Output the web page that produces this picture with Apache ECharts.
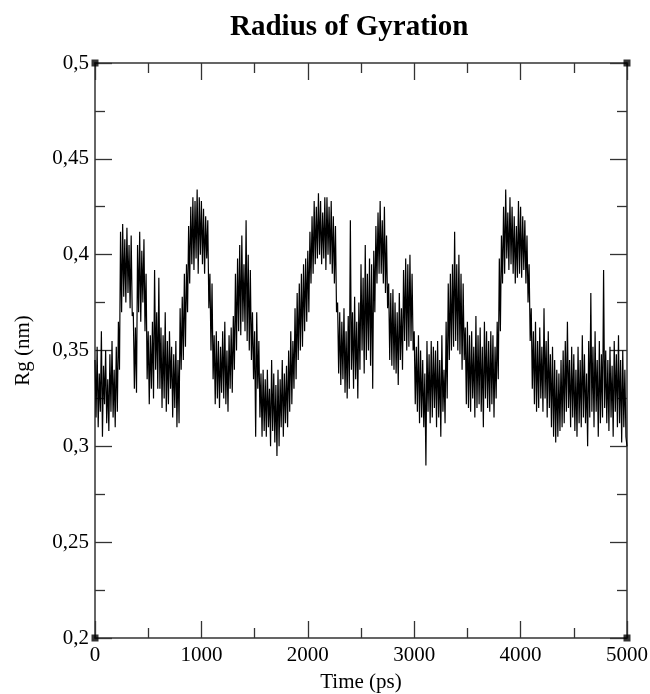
<!DOCTYPE html>
<html>
<head>
<meta charset="utf-8">
<script src="https://cdn.jsdelivr.net/npm/echarts@6/dist/echarts.min.js"></script>
<style>
  html, body { margin: 0; padding: 0; background: #fff; }
  #chart { width: 650px; height: 694px; }
</style>
</head>
<body>
<div id="chart"></div>
<script>
// sampling of the trajectory (ps)
const timeStep = 10
const timeTicks = [0, 1000, 2000, 3000, 4000, 5000]
const rgTicks = [0.2, 0.25, 0.3, 0.35, 0.4, 0.45, 0.5]
// Rg (nm), one row = 200 ps
const rgValues = [
  0.345, 0.315, 0.352, 0.31, 0.338, 0.318, 0.36, 0.305, 0.342, 0.322, 0.35, 0.312, 0.335, 0.308, 0.348, 0.318, 0.355, 0.315, 0.34, 0.31,
  0.352, 0.318, 0.365, 0.34, 0.412, 0.37, 0.416, 0.378, 0.408, 0.375, 0.414, 0.38, 0.405, 0.372, 0.41, 0.368, 0.37, 0.33, 0.362, 0.328,
  0.405, 0.37, 0.412, 0.365, 0.402, 0.375, 0.408, 0.36, 0.39, 0.335, 0.36, 0.322, 0.358, 0.33, 0.365, 0.325, 0.392, 0.34, 0.37, 0.33,
  0.388, 0.33, 0.362, 0.32, 0.358, 0.325, 0.37, 0.318, 0.355, 0.322, 0.36, 0.33, 0.352, 0.315, 0.348, 0.32, 0.355, 0.31, 0.345, 0.312,
  0.372, 0.34, 0.378, 0.345, 0.39, 0.352, 0.395, 0.37, 0.415, 0.385, 0.425, 0.395, 0.43, 0.392, 0.428, 0.398, 0.434, 0.39, 0.43, 0.4,
  0.428, 0.395, 0.424, 0.39, 0.42, 0.398, 0.418, 0.372, 0.39, 0.35, 0.385, 0.335, 0.358, 0.322, 0.36, 0.325, 0.355, 0.32, 0.352, 0.328,
  0.36, 0.325, 0.365, 0.322, 0.35, 0.318, 0.358, 0.33, 0.362, 0.328, 0.368, 0.34, 0.39, 0.35, 0.398, 0.36, 0.405, 0.358, 0.41, 0.365,
  0.395, 0.36, 0.418, 0.355, 0.4, 0.35, 0.392, 0.345, 0.37, 0.335, 0.36, 0.305, 0.37, 0.33, 0.355, 0.315, 0.338, 0.305, 0.34, 0.308,
  0.335, 0.305, 0.34, 0.31, 0.33, 0.3, 0.345, 0.308, 0.338, 0.302, 0.332, 0.295, 0.34, 0.3, 0.335, 0.31, 0.345, 0.305, 0.338, 0.312,
  0.342, 0.31, 0.35, 0.318, 0.36, 0.322, 0.355, 0.33, 0.372, 0.335, 0.38, 0.345, 0.385, 0.35, 0.39, 0.352, 0.395, 0.36, 0.398, 0.365,
  0.402, 0.37, 0.412, 0.385, 0.42, 0.39, 0.428, 0.395, 0.425, 0.398, 0.432, 0.4, 0.428, 0.395, 0.422, 0.398, 0.43, 0.392, 0.43, 0.4,
  0.425, 0.395, 0.428, 0.39, 0.42, 0.385, 0.415, 0.37, 0.375, 0.338, 0.37, 0.332, 0.365, 0.335, 0.372, 0.328, 0.36, 0.325, 0.368, 0.33,
  0.418, 0.34, 0.37, 0.33, 0.378, 0.335, 0.365, 0.325, 0.375, 0.34, 0.395, 0.35, 0.388, 0.338, 0.405, 0.345, 0.39, 0.35, 0.398, 0.342,
  0.395, 0.33, 0.402, 0.37, 0.415, 0.385, 0.422, 0.39, 0.428, 0.39, 0.418, 0.385, 0.425, 0.38, 0.41, 0.372, 0.385, 0.345, 0.38, 0.342,
  0.382, 0.34, 0.375, 0.338, 0.37, 0.332, 0.38, 0.345, 0.372, 0.34, 0.392, 0.355, 0.398, 0.35, 0.395, 0.352, 0.4, 0.355, 0.39, 0.35,
  0.36, 0.322, 0.352, 0.318, 0.358, 0.312, 0.35, 0.315, 0.345, 0.31, 0.338, 0.29, 0.355, 0.318, 0.348, 0.312, 0.355, 0.315, 0.352, 0.32,
  0.35, 0.31, 0.355, 0.315, 0.345, 0.305, 0.358, 0.318, 0.34, 0.312, 0.365, 0.325, 0.385, 0.345, 0.39, 0.35, 0.395, 0.352, 0.412, 0.355,
  0.395, 0.35, 0.4, 0.348, 0.39, 0.34, 0.385, 0.345, 0.362, 0.322, 0.365, 0.32, 0.358, 0.318, 0.36, 0.325, 0.352, 0.315, 0.368, 0.32,
  0.358, 0.322, 0.362, 0.318, 0.352, 0.31, 0.365, 0.325, 0.36, 0.32, 0.355, 0.318, 0.36, 0.322, 0.358, 0.315, 0.352, 0.325, 0.365, 0.335,
  0.398, 0.36, 0.41, 0.385, 0.425, 0.39, 0.434, 0.398, 0.422, 0.392, 0.43, 0.395, 0.425, 0.39, 0.42, 0.385, 0.415, 0.388, 0.428, 0.39,
  0.425, 0.388, 0.42, 0.392, 0.418, 0.385, 0.41, 0.375, 0.395, 0.355, 0.372, 0.33, 0.36, 0.322, 0.365, 0.318, 0.355, 0.32, 0.362, 0.325,
  0.352, 0.318, 0.372, 0.325, 0.355, 0.315, 0.36, 0.32, 0.348, 0.31, 0.352, 0.305, 0.345, 0.302, 0.34, 0.305, 0.338, 0.308, 0.345, 0.31,
  0.35, 0.312, 0.355, 0.318, 0.365, 0.32, 0.345, 0.31, 0.352, 0.315, 0.348, 0.308, 0.34, 0.305, 0.352, 0.312, 0.345, 0.31, 0.358, 0.315,
  0.348, 0.312, 0.338, 0.3, 0.355, 0.315, 0.38, 0.318, 0.352, 0.31, 0.36, 0.318, 0.345, 0.305, 0.355, 0.312, 0.348, 0.315, 0.392, 0.32,
  0.35, 0.312, 0.345, 0.308, 0.352, 0.315, 0.342, 0.305, 0.355, 0.318, 0.348, 0.31, 0.358, 0.312, 0.345, 0.302, 0.35, 0.31, 0.34, 0.305,
  0.3
]

const serif = '"Liberation Serif", "DejaVu Serif", serif'
const axisColor = '#333'

const seriesData = rgValues.map((v, i) => [i * timeStep, v])
const xMin = timeTicks[0], xMax = timeTicks[timeTicks.length - 1]
const yMin = rgTicks[0], yMax = rgTicks[rgTicks.length - 1]
// the little black squares on the frame corners
const corners = [[xMin, yMin], [xMax, yMin], [xMin, yMax], [xMax, yMax]]

function baseAxis (extra) {
  return Object.assign({
    type: 'value',
    axisLine: { show: true, onZero: false, lineStyle: { color: axisColor, width: 1.5 } },
    axisTick: { show: true, inside: true, length: 17, lineStyle: { color: axisColor, width: 1.3 } },
    minorTick: { show: true, splitNumber: 2, length: 10, lineStyle: { color: axisColor, width: 1.3 } },
    splitLine: { show: false },
    minorSplitLine: { show: false }
  }, extra)
}

const chart = echarts.init(document.getElementById('chart'))
chart.setOption({
  backgroundColor: '#fff',
  animation: false,
  title: {
    text: 'Radius of Gyration',
    left: 225,
    top: 8,
    textStyle: { fontFamily: serif, fontWeight: 'bold', fontSize: 29, color: '#000' }
  },
  grid: { left: 95, right: 23, top: 63, bottom: 56, outerBoundsMode: 'none', containLabel: false },
  xAxis: [
    baseAxis({
      min: xMin, max: xMax, interval: 1000, position: 'bottom',
      name: 'Time (ps)', nameLocation: 'middle', nameGap: 34,
      nameTextStyle: { fontFamily: serif, fontSize: 21, color: '#000' },
      axisLabel: { fontFamily: serif, fontSize: 21, color: '#000', margin: 7, formatter: v => String(v) }
    }),
    baseAxis({
      min: xMin, max: xMax, interval: 1000, position: 'top',
      axisLabel: { show: false }
    })
  ],
  yAxis: [
    baseAxis({
      min: yMin, max: yMax, interval: 0.05, position: 'left',
      name: 'Rg (nm)', nameLocation: 'middle', nameGap: 61,
      nameTextStyle: { fontFamily: serif, fontSize: 21, color: '#000' },
      axisLabel: {
        fontFamily: serif, fontSize: 21, color: '#000', margin: 6,
        formatter: v => String(+v.toFixed(2)).replace('.', ',')
      }
    }),
    baseAxis({
      min: yMin, max: yMax, interval: 0.05, position: 'right',
      axisLabel: { show: false }
    })
  ],
  series: [
    {
      name: 'Rg',
      type: 'line',
      data: seriesData,
      showSymbol: false,
      symbol: 'none',
      lineStyle: { color: '#000', width: 1.2 }
    },
    {
      type: 'scatter',
      data: corners,
      symbol: 'rect',
      symbolSize: 7,
      clip: false,
      itemStyle: { color: '#000' },
      z: 5
    }
  ]
})
</script>
</body>
</html>
